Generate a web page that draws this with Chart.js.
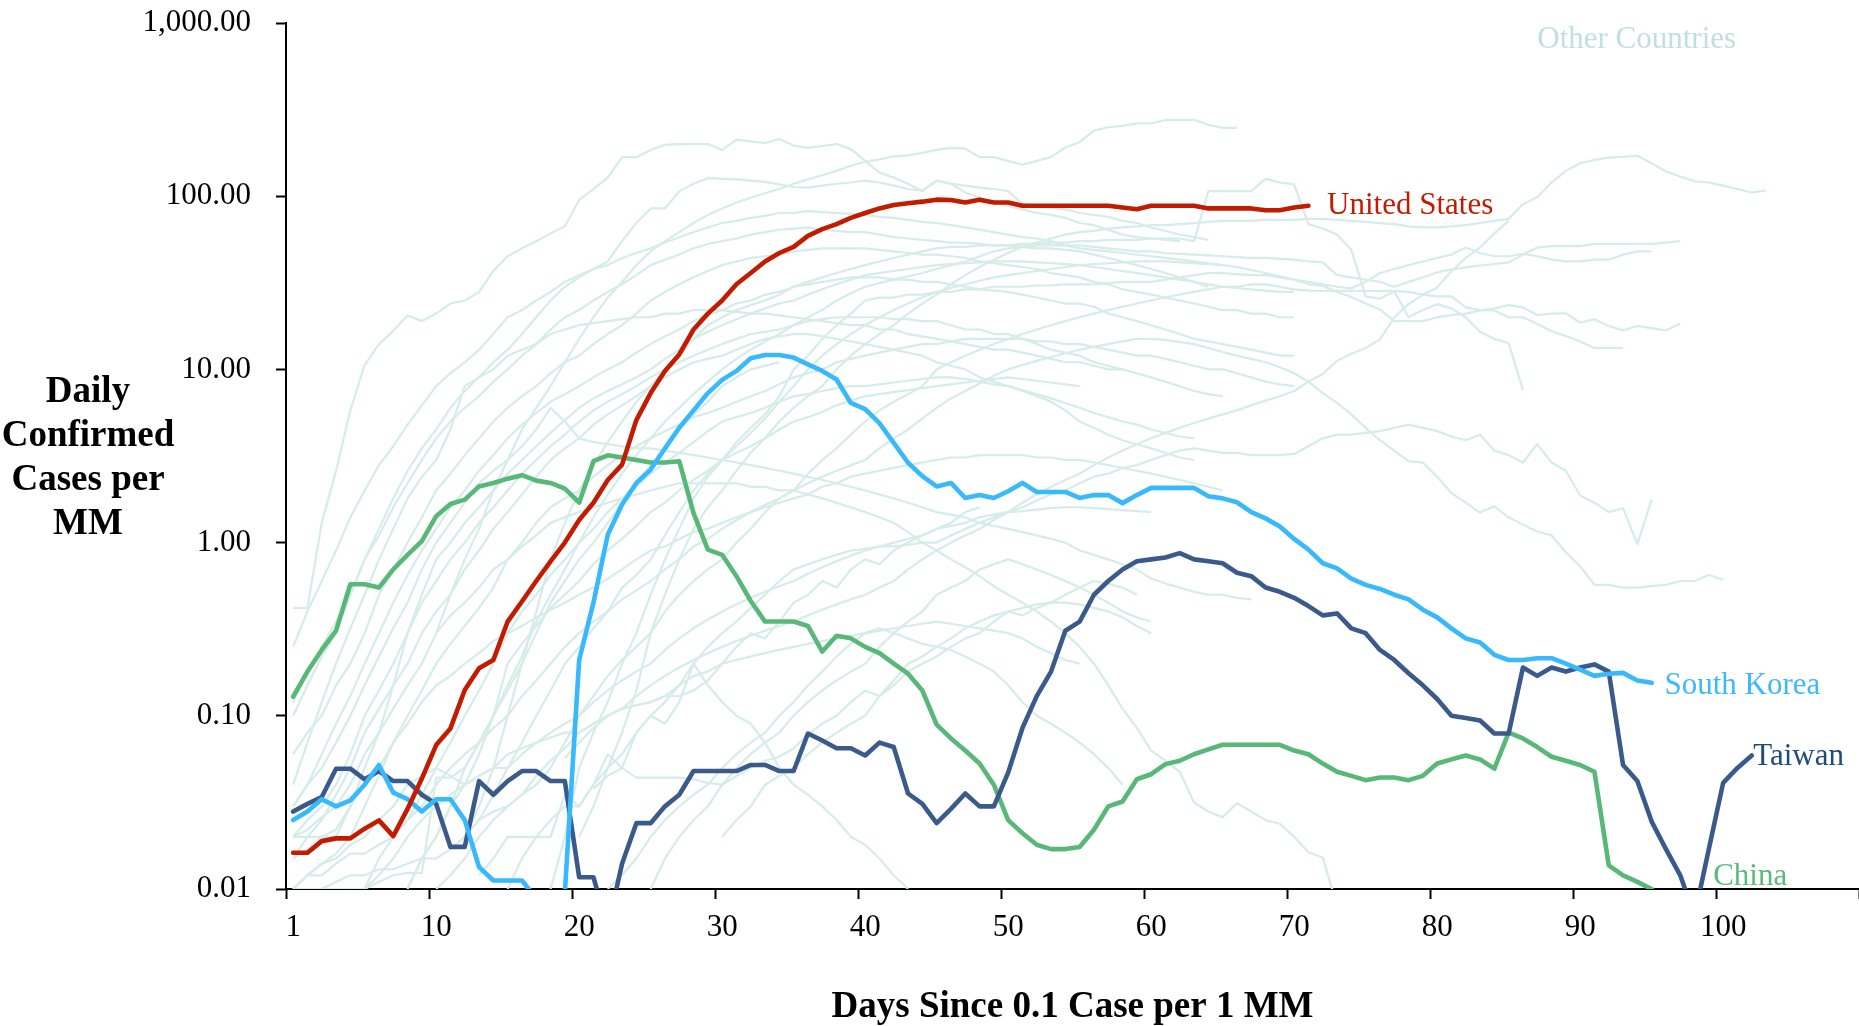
<!DOCTYPE html>
<html><head><meta charset="utf-8">
<script src="https://cdn.jsdelivr.net/npm/chart.js@4.4.1/dist/chart.umd.min.js"></script>
<style>html,body{margin:0;padding:0;background:#fff;overflow:hidden}canvas{display:block}</style>
</head><body>
<canvas id="c" width="1859" height="1026"></canvas>
<script>
// ---------- DATA ----------
// x = day index (category position); labels shown on axis below
const xTickLabels = ['1','10','20','30','40','50','60','70','80','90','100',''];
const yTickValues = [0.01, 0.1, 1, 10, 100, 1000];
const yTickLabels = ['0.01','0.10','1.00','10.00','100.00','1,000.00'];

const unitedStates = [0.0162,0.0162,0.0189,0.0196,0.0196,0.0223,0.0249,0.0202,0.029,0.0434,
 0.0678,0.0846,0.141,0.188,0.21,0.35,0.457,0.6,0.78,1.0,
 1.35,1.7,2.3,2.82,5.1,7.3,9.8,12.2,17,21,
 25,31,36,42,47,51,59,64.5,69,75,
 80,85,89,91,93,95.5,95,92,95.5,92,
 92,88,88,88,88,88,88,88,86,84,
 88,88,88,88,85,85,85,85,83,83,
 86,88];
const southKorea = [0.025,0.028,0.033,0.03,0.0325,0.04,0.052,0.036,0.033,0.028,
 0.033,0.033,0.025,0.0134,0.0112,0.0112,0.0112,0.0088,0.005,0.0095,
 0.21,0.45,1.11,1.66,2.21,2.64,3.5,4.6,5.8,7.3,
 8.7,9.8,11.6,12.1,12.1,11.7,10.7,9.8,8.75,6.4,
 5.9,4.9,3.77,2.89,2.42,2.11,2.21,1.81,1.88,1.81,
 1.98,2.21,1.96,1.96,1.96,1.81,1.88,1.88,1.69,1.88,
 2.07,2.07,2.07,2.07,1.85,1.8,1.71,1.5,1.38,1.24,
 1.05,0.91,0.76,0.71,0.62,0.57,0.54,0.5,0.47,0.41,
 0.37,0.32,0.28,0.265,0.225,0.21,0.21,0.215,0.215,0.2,
 0.185,0.17,0.175,0.177,0.16,0.155];
const taiwan = [0.028,0.031,0.034,0.0495,0.0495,0.043,0.048,0.042,0.042,0.035,
 0.031,0.0175,0.0175,0.042,0.035,0.042,0.048,0.048,0.042,0.042,
 0.0117,0.0117,0.006,0.014,0.024,0.024,0.03,0.035,0.048,0.048,
 0.048,0.048,0.052,0.052,0.048,0.048,0.079,0.072,0.065,0.065,
 0.059,0.07,0.066,0.0356,0.031,0.024,0.029,0.0356,0.03,0.03,
 0.047,0.085,0.13,0.18,0.31,0.35,0.5,0.6,0.7,0.78,
 0.8,0.82,0.87,0.8,0.78,0.76,0.67,0.64,0.55,0.52,
 0.48,0.43,0.38,0.39,0.32,0.3,0.24,0.21,0.176,0.15,
 0.125,0.1,0.097,0.094,0.079,0.079,0.19,0.17,0.19,0.18,
 0.19,0.198,0.18,0.052,0.042,0.0245,0.017,0.012,0.007,0.017,
 0.041,0.05,0.059];
const china = [0.129,0.18,0.24,0.31,0.575,0.575,0.55,0.7,0.85,1.02,
 1.42,1.67,1.77,2.11,2.21,2.34,2.45,2.28,2.21,2.05,
 1.7,2.95,3.19,3.1,3.0,2.9,2.9,2.95,1.48,0.91,
 0.85,0.64,0.46,0.35,0.35,0.35,0.33,0.235,0.29,0.28,
 0.25,0.23,0.2,0.175,0.14,0.089,0.074,0.063,0.053,0.04,
 0.025,0.021,0.018,0.017,0.017,0.0175,0.022,0.03,0.032,0.043,
 0.046,0.0526,0.055,0.06,0.064,0.068,0.068,0.068,0.068,0.068,
 0.063,0.06,0.053,0.0475,0.045,0.0425,0.044,0.044,0.0425,0.045,
 0.053,0.056,0.059,0.056,0.0495,0.08,0.074,0.066,0.058,0.055,
 0.052,0.0475,0.0137,0.012,0.011,0.0100];

// other countries: each array starts at the day index given in otherStarts
const other01 = [0.42,0.42,1.3,2.6,5.8,10.6,14,16.7,20.5,19,21,24,25,28,37,45,50,55,61,67,95,110,128,168,168,185,198,200,200,200,185,212,207,203,214,196,190,195,200,187,160,137,128,118,107,123,118,105,98,92,88,84,80,78,75,70,68,64,60,58,57,56,55];
const other02 = [0.3,0.5,0.8,1.2,2,3,4.5,6,8,11,15,20,26,32,40,48,55,62,70,78,85,92,98,104,110,118,125,132,140,150,158,163,170,172,178,185,190,188,168,168,160,152,160,168,191,205,239,250,255,263,263,276,276,276,258,248,248];
const other03 = [0.1,0.15,0.22,0.3,0.5,0.8,1.2,1.8,2.6,3.5,4.5,6,7.5,9,11,13,16,20,25,30,34,38,42,55,70,85,85,107,118,127,126,125,123,121,117,113,112,115,118,120,123,120,115,110,108,123,118,115,112,110,107,90,88,86,84,80,78,76,72,70,66,63,60,58,56];
const other04 = [0.25,0.4,0.6,0.9,1.4,2,2.8,3.6,4.8,6.2,8,9.5,11,13,16,20,22,25,28,32,35,38,40,44,47,50,54,58,62,66,70,72,75,77,80,80,82,81,80,79,78,76,75,73,71,70,68,66,64,62,60,58,57,55,52,50,49,48,47,46,45,44,43,42,41,40];
const other05 = [0.12,0.18,0.25,0.35,0.5,0.8,1.1,1.6,2.2,3,4,5,6,7,8.5,10,12,14,17,20,22,25,28,31,35,40,43,46,50,53,55,57,60,62,64,65,66,64,63,62,62,60,58,57,56,55,54,54,53,52,52,51,50,50,49,48,46,44,42,40,38,36,34,32,30];
const other06 = [0.06,0.08,0.1,0.15,0.2,0.3,0.5,0.7,1,1.4,2,2.5,3.2,4,5,6,7,8,9.5,11,12,14,16,18,21,25,28,31,34,37,40,42,44,45,46,48,49,50,50,50,50,49,48,47,46,46,45,44,42,41,40,39,38,36,35,34,32,31,29,28,27,26,25,24,23,22,22,21,21,20,20];
const other07 = [0.03,0.04,0.06,0.09,0.13,0.2,0.3,0.45,0.65,0.9,1.2,1.6,2,2.6,3.2,4,4.8,5.6,6.5,7.2,8,9,10,11,12.5,14,15.5,17,19,20.5,22,24,25,27,28,30,31,32,33,34,34,34,33,33,32,32,31,30,29,28.5,28,27,26,25,24,24,23,21,20,19,18,17,16,15,14.5,14,13.5,13,12.5,12,12];
const other08 = [0.02,0.025,0.03,0.04,0.06,0.1,0.14,0.2,0.3,0.45,0.6,0.8,1,1.3,1.6,2,2.5,3,3.6,4.2,5,5.8,6.5,7.2,8,9,10,11,12,13,14,15,16,16.5,17,18,19,19.5,20,20,20,20,19.5,19.5,19,19,18,17,17,16,16,15,14,13,12.5,12,11,10.5,10,9.5,9,8.5,8,7.5,7.2,7];
const other09 = [0.015,0.02,0.025,0.035,0.05,0.08,0.11,0.15,0.2,0.3,0.4,0.5,0.7,0.9,1.2,1.5,1.9,2.4,3,3.5,4,4.8,5.5,6.2,7,8,9,10,11,11.5,12,13,14,15,15.5,16,16,15.5,15,14.5,14,13.5,13,12.5,12,11,10.5,10,9,8.5,8,7.5,7,6.5,5.8,5,4.6,4.2,3.9,3.7,3.5,3.3,3.1,3];
const other10 = [0.04,0.07,0.12,0.2,0.32,0.5,0.8,1.2,1.8,2.4,3,4.5,8,9,10,12,13,14,16,17,18,18.5,19,19.5,20,20,21,21,22,22,22,21.5,21,21,20.5,20,19.5,19,18.5,18,18,17,17,16,15.5,15,14.5,14,13.5,13,13,12.5,12,11.5,11,11,10.5,10,10];
const other11 = [0.02,0.02,0.02,0.02,0.03,0.05,0.08,0.15,0.3,0.5,0.8,1,1.3,1.6,2,2.5,3,3.6,4.3,5.1,6,6.8,7.5,8.2,9,10,11.5,13,15,16.5,18,19.5,21,22.5,24,25,27,29,31,33,35,36,37,38,39,40,40.5,41,41.5,42,42,42,41.5,41,40.5,40,39,38,37,36,35,34,33,32,31,30,29.5,29,28.5,28,28];
const other12 = [0.01,0.012,0.014,0.016,0.02,0.03,0.045,0.07,0.1,0.14,0.2,0.26,0.33,0.42,0.55,0.8,1,1.3,1.6,1.8,2,2.4,2.8,3.2,3.6,4,4.4,4.8,5.3,5.6,6,6.5,7,7.5,8.2,9,9.5,10,11,11.5,12,12.5,13,13.5,14,14,14.5,15,15,15,15,15,14.5,14.5,14,14,13.5,13,12.5,12,12,11.5,11,10.5,10,10,9.5,9,8.5,8.2,8];
const other13 = [0.01,0.012,0.012,0.014,0.016,0.016,0.018,0.02,0.025,0.035,0.05,0.07,0.1,0.14,0.2,0.3,0.4,0.5,0.65,0.8,1,1.2,1.5,1.8,2.1,2.5,2.9,3.3,3.8,4.4,5,5.3,5.6,6,6.5,7,7.2,7.5,7.8,8,8,8.2,8.4,8.6,8.8,9,9,8.8,8.5,8.2,8,7.6,7.2,6.8,6.4,6,5.6,5.3,5,4.8,4.5,4.3,4.1,4];
const other14 = [0.03,0.04,0.05,0.07,0.1,0.15,0.22,0.32,0.45,0.7,1,1.3,1.7,2.2,2.6,3,3.6,4.5,6,5,4,3.8,3.7,3.6,3.5,3.5,3.4,3.3,3.2,3.1,3,2.9,2.8,2.7,2.6,2.5,2.4,2.3,2.2,2.1,2,1.9,1.8,1.7,1.6,1.5,1.45,1.4,1.3,1.25,1.2,1.15,1.1,1.05,1,0.9,0.85,0.8,0.75,0.7,0.62,0.58,0.55,0.52,0.5,0.5,0.48,0.47];
const other15 = [0.02,0.022,0.026,0.03,0.04,0.06,0.08,0.11,0.15,0.2,0.3,0.38,0.45,0.55,0.7,0.8,0.95,1.1,1.3,1.4,1.5,1.6,1.7,1.8,1.9,2,2.1,2.2,2.2,2.2,2.2,2.2,2.1,2.1,2,2,1.9,1.8,1.7,1.6,1.5,1.4,1.3,1.15,1,0.9,0.8,0.72,0.64,0.56,0.5,0.45,0.4,0.35,0.3,0.25,0.2,0.15,0.11,0.085,0.063,0.055,0.0475,0.0316,0.028,0.026,0.0313,0.028,0.025,0.0238,0.02,0.0163,0.0152,0.008];
const other16 = [0.01,0.012,0.014,0.015,0.018,0.02,0.025,0.03,0.04,0.045,0.05,0.045,0.04,0.06,0.1,0.2,0.26,0.33,0.42,0.5,0.6,0.75,0.9,1.05,1.25,1.5,1.7,2,2.3,2.6,3,3.3,3.6,4,4.5,5,5.3,5.7,6.2,6.6,7,7.2,7.4,7.6,7.8,8,8.2,8.4,8.6,8.8,9,8.8,8.6,8.4,8.2,8];
const other17 = [0.015,0.017,0.02,0.022,0.03,0.04,0.05,0.07,0.09,0.12,0.15,0.17,0.2,0.23,0.27,0.3,0.33,0.37,0.41,0.45,0.5,0.55,0.62,0.7,0.8,0.9,0.95,1.05,1.15,1.2,1.3,1.4,1.5,1.6,1.7,1.8,1.9,2.1,2.2,2.4,2.5,2.6,2.7,2.8,2.9,3,3.1,3.1,3.2,3.2,3.2,3.2,3.1,3.1,3,3,2.9,2.8,2.7,2.6,2.5,2.4,2.3,2.2,2.1,2];
const other18 = [0.01,0.01,0.01,0.011,0.012,0.012,0.013,0.013,0.014,0.015,0.015,0.017,0.02,0.025,0.028,0.03,0.035,0.04,0.05,0.07,0.1,0.12,0.14,0.16,0.18,0.2,0.24,0.28,0.32,0.36,0.4,0.44,0.48,0.52,0.56,0.6,0.66,0.72,0.78,0.84,0.9,0.95,1,1.05,1.1,1.2,1.25,1.3,1.4,1.45,1.5,1.52,1.55,1.58,1.6,1.6,1.58,1.56,1.54,1.52,1.5];
const other19 = [0.01,0.01,0.01,0.01,0.01,0.01,0.012,0.015,0.02,0.025,0.03,0.035,0.04,0.045,0.05,0.06,0.065,0.07,0.075,0.08,0.08,0.09,0.1,0.11,0.115,0.12,0.13,0.15,0.17,0.18,0.2,0.21,0.22,0.23,0.24,0.25,0.26,0.27,0.28,0.29,0.3,0.31,0.32,0.33,0.34,0.35,0.34,0.33,0.32,0.31,0.3,0.28,0.25,0.23,0.21,0.2];
const other20 = [0.01,0.015,0.02,0.03,0.04,0.045,0.05,0.05,0.06,0.07,0.08,0.09,0.1,0.13,0.17,0.21,0.25,0.3,0.4,0.5,0.6,0.7,0.8,1,1.2,1.5,1.8,2,2.5,3,3.5,4.2,5,5.8,6.5,7.2,8,10,11,12,13,14,15,16,17,18,19,20,21,22,23,24,25,26,27,28,29,30,30,31,31,30,29,28.5,28.4,28.4,28.4,28.4,28.4,28.4,28,27,26.4,26.4,22.8,22,21.9,20,20,18.3,16.6,15.6,14.5,13.3,13.3,13.3];
const other21 = [0.01,0.015,0.02,0.025,0.03,0.03,0.04,0.05,0.06,0.08,0.1,0.12,0.15,0.2,0.25,0.3,0.35,0.42,0.5,0.6,0.7,0.75,0.8,0.85,0.9,0.92,0.95,0.95,0.97,1,1,1.1,1.2,1.3,1.4,1.5,1.7,1.9,2.1,2.3,2.5,2.8,3.1,3.4,3.7,4,4.3,4.6,4.9,5.2,5.5,5.8,6.2,6.6,7,7.5,8.5,9.4,11.2,12.3,13.3,14.9,20,23.8,27,29.7,37,44,50.5,61,72];
const other22 = [0.01,0.012,0.015,0.02,0.025,0.03,0.035,0.045,0.055,0.065,0.08,0.09,0.1,0.11,0.13,0.15,0.17,0.19,0.21,0.23,0.25,0.27,0.29,0.31,0.33,0.35,0.38,0.41,0.44,0.47,0.5,0.55,0.6,0.7,0.8,0.9,1,1.1,1.2,1.35,1.5,1.6,1.75,1.9,2,2.2,2.4,2.5,2.7,2.8,3,3.2,3.4,3.5,3.4,3.3,3.3,3.2,3.2,3.2,3.25,3.6,4,4.2,4.2,4.3,4.4,4.6,4.8,4.6,4.4,4.1,3.9,4.2,3.4,3.2,2.9,3.7,2.9,2.6,1.87,1.7,1.5,1.58,0.98,1.77];
const other23 = [0.01,0.015,0.02,0.025,0.03,0.04,0.05,0.06,0.07,0.085,0.1,0.13,0.16,0.2,0.25,0.3,0.35,0.4,0.47,0.53,0.6,0.7,0.8,0.95,1.05,1.2,1.35,1.5,1.65,1.8,2,2.2,2.4,2.6,2.8,3,3.5,4,4.5,5.2,6,6.8,7.5,8.3,9.2,10,10.6,11.2,11.8,12.4,13,13.5,14,14.5,15,15,14.8,14.4,14,13.3,12.6,12,11.5,11,10.3,9.5,8.5,7.3,6.4,5.5,4.6,3.9,3.4,2.95,2.9,2.4,1.93,1.7,1.49,1.62,1.4,1.27,1.16,1.1,0.88,0.73,0.57,0.57,0.55,0.55,0.56,0.57,0.6,0.6,0.65,0.61];
const other24 = [0.02,0.025,0.035,0.05,0.07,0.1,0.14,0.2,0.25,0.32,0.4,0.55,0.65,0.8,1.1,1.5,2,2.5,3,3.6,4.3,5.2,6.5,8,10,12,14,16,18,20,22,24,26,28,29.5,31,32.5,34,35,36,37,38,39,40,40.5,41,41.5,42,42,42,41.5,41,40.5,40,39,37.5,36,34.5,33,31,30.4,28,26.2,24,22.2,19,19,19,20,20.6,21,21.9,22.5,23.5,22.8,20.6,21,21.1,18.6,19.5,17.8,16.8,17.8,17.3,16.8,18.4];
const other25 = [0.01,0.015,0.02,0.03,0.05,0.07,0.1,0.15,0.22,0.35,0.5,0.7,1,1.4,1.9,2.5,3.2,4,5,6,7.2,8.5,10,11.5,13,14.5,16,18,20,22,25,27.5,30,31.5,33,34.5,36,38,40,42,45,48,50,51,52,52,52,52,51,50,49,48,48,47,46.5,46,45.5,45,44.5,44,44,43.5,43,42,41.5,35,34,33,32,30,32,34,36.3,37.8,38.8,39.8,40.6,41.5,46,50.5,51.5,51.5,51.5,53,53,53,53,53,54,55];
const other26 = [0.01,0.02,0.05,0.08,0.12,0.2,0.3,0.5,0.8,1.2,1.8,2.4,3,3.8,4.6,5.5,7,10,12,15,18,21,25,26,26,27,27,28,28,29,29,30,30,30,30.5,30.5,31,31,31,31.5,32,32,32,33,34,35,36,36,35.5,35,35,34,33,32,31,30,29.4,32,36,38,40,42,44,46,50.5,47,45,45,46.4,45,43,42,42,43,43,46,48,48];
const other27 = [0.02,0.03,0.05,0.1,0.2,0.4,0.8,1.3,2,2.8,3.8,5,6.5,8,10,12,15,18,20,22,23.5,25,27,30,32,34,36,38,40,42,44,46,48,50,51,51,52,52,52,53,53,54,54,55,55,56,56,56,57,57,57,55,107,107,107,107,126,120,117,69,65,60,49,26.4,25.6,28.3,20,22,23.8,22.5,20,16.5,15,14.2,7.6];
const other28 = [0.02,0.03,0.05,0.08,0.14,0.3,0.5,0.8,1.2,1.6,2,2.6,3.3,4,5,6,7,8,10,12,14,16,18,21,24,27,31,35,39,43,47,51,54,57,60,62,63,65,66,67,68,68,69,70,71,72,72,72,73,73,73,74,74,73,72,71,70,69,67,66,66,67,68,70,72,74,90,98.6,120,140,155,162,167,169,171,155,139,130,122,120,115,110,105,108];
const other29 = [0.01,0.012,0.015,0.02,0.025,0.03,0.035,0.04,0.05,0.06,0.07,0.08,0.1,0.12,0.15,0.18,0.22,0.26,0.3,0.32,0.3,0.28,0.26,0.25,0.24,0.22,0.2,0.18,0.15,0.12,0.1,0.09,0.08,0.07,0.06,0.05,0.04];
const other30 = [0.01,0.015,0.02,0.025,0.03,0.04,0.05,0.06,0.07,0.08,0.1,0.12,0.14,0.16,0.18,0.2,0.25,0.3,0.35,0.4,0.5,0.55,0.6,0.7,0.75,0.8,0.75,0.7,0.65,0.6,0.55,0.5,0.45,0.4,0.37,0.35];
const other31 = [0.02,0.025,0.03,0.04,0.045,0.05,0.06,0.07,0.08,0.09,0.1,0.13,0.16,0.2,0.22,0.25,0.28,0.32,0.35,0.38,0.4,0.42,0.44,0.45,0.45,0.44,0.42,0.4,0.37,0.33,0.3];
const other32 = [0.057,0.07,0.085,0.1,0.11,0.115,0.12,0.13,0.13,0.14,0.16,0.2,0.25,0.3,0.28,0.35,0.45,0.5,0.6,0.55,0.7,0.8,0.75,0.9,1.0,1.1,1.2,1.3,1.5,1.6];
const other33 = [0.038,0.045,0.05,0.044,0.044,0.044,0.044,0.043,0.041,0.04,0.045,0.05,0.055,0.058,0.065,0.078,0.09,0.1,0.12,0.14,0.13,0.15,0.18,0.2,0.22,0.25,0.28,0.3,0.35,0.4,0.38,0.42,0.45,0.5,0.55,0.6,0.58,0.55,0.5];
const other34 = [0.012,0.015,0.02,0.02,0.02,0.02,0.035,0.03,0.04,0.06,0.05,0.08,0.1,0.09,0.12,0.2,0.15,0.12,0.1,0.09,0.07,0.05,0.04,0.035,0.03,0.025,0.02,0.018,0.015,0.012,0.01];
const other35 = [0.01,0.011,0.012,0.0124,0.0124,0.044,0.044,0.05,0.07,0.1,0.14,0.2,0.3,0.45,0.6,0.8,1,1.3,1.7,2.2,2.8,3.5,4.5,5.5,6.5,8,9,10,10.5,11];
const otherSeries = [other01,other02,other03,other04,other05,other06,other07,other08,other09,other10,
 other11,other12,other13,other14,other15,other16,other17,other18,other19,other20,
 other21,other22,other23,other24,other25,other26,other27,other28,other29,other30,
 other31,other32,other33,other34,other35];
const otherStarts = [0,10,0,0,0,0,0,0,0,0, 0,0,0,0,0,0,0,0,0,8, 15,10,5,12,8,18,12,20,22,25, 30,19,21,13,5];

const seriesLabels = [
  {text:'United States', x:72.3, y:88, color:'#C21B00'},
  {text:'South Korea', x:95.9, y:0.149, color:'#3BB8FF'},
  {text:'Taiwan', x:102.1, y:0.058, color:'#1F4B78'},
  {text:'China', x:99.3, y:0.0117, color:'#5BBA7B'},
  {text:'Other Countries', x:87, y:800, color:'#BFE1DC'}
];
const yTitleLines = ['Daily','Confirmed','Cases per','MM'];

// ---------- BUILD ----------
const toPts = (arr, start) => arr.map((v, i) => ({x: start + i, y: v}));
const SERIF = "'Liberation Serif', 'Times New Roman', serif";
const mainStyle = (color) => ({borderColor: color, borderWidth: 4.6, pointRadius: 0, tension: 0,
  borderJoinStyle: 'round', borderCapStyle: 'round', fill: false});

const datasets = [
  {label:'United States', data: toPts(unitedStates,0), ...mainStyle('#C21B00')},
  {label:'South Korea', data: toPts(southKorea,0), ...mainStyle('#38B8FD')},
  {label:'Taiwan', data: toPts(taiwan,0), ...mainStyle('#3A5A8B')},
  {label:'China', data: toPts(china,0), ...mainStyle('#58B878')},
];
otherSeries.forEach((arr, k) => datasets.push({
  label: 'Other ' + (k+1), data: toPts(arr, otherStarts[k]),
  borderColor: '#D5ECE9', borderWidth: 2.2, pointRadius: 0, tension: 0,
  borderJoinStyle: 'round', fill: false
}));

const textPlugin = {
  id: 'texts',
  afterDraw(chart) {
    const {ctx, scales: {x, y}} = chart;
    ctx.save();
    ctx.textBaseline = 'middle';
    ctx.textAlign = 'left';
    ctx.font = '31px ' + SERIF;
    seriesLabels.forEach(l => {
      ctx.fillStyle = l.color;
      ctx.fillText(l.text, x.getPixelForValue(l.x), y.getPixelForValue(l.y));
    });
    ctx.font = 'bold 37px ' + SERIF;
    ctx.textAlign = 'center';
    ctx.fillStyle = '#000';
    yTitleLines.forEach((t, i) => ctx.fillText(t, 88, 392 + i * 44));
    ctx.restore();
  }
};

new Chart(document.getElementById('c'), {
  type: 'line',
  data: {datasets},
  options: {
    responsive: false,
    animation: false,
    devicePixelRatio: 1,
    layout: {padding: {top: 23, right: 0, bottom: 0, left: 0}},
    plugins: {legend: {display: false}, tooltip: {enabled: false}},
    scales: {
      x: {
        type: 'linear', position: 'bottom', min: -0.5, max: 109.5,
        afterBuildTicks: (s) => { s.ticks = xTickLabels.map((_, k) => ({value: k * 10 - 0.5})); },
        afterFit: (s) => { s.height = 137; s.paddingLeft = 0; s.paddingRight = 0; },
        ticks: {
          autoSkip: false, maxRotation: 0, minRotation: 0, padding: 10, labelOffset: 7.15,
          color: '#000', font: {family: SERIF, size: 31},
          callback: (v, i) => xTickLabels[i]
        },
        grid: {drawOnChartArea: false, drawTicks: true, tickLength: 10, tickColor: '#000', tickWidth: 2},
        border: {display: true, color: '#000', width: 2},
        title: {display: true, text: 'Days Since 0.1 Case per 1 MM', color: '#000',
          font: {family: SERIF, size: 37, weight: 'bold', lineHeight: 1}, padding: {top: 0, bottom: 0}}
      },
      y: {
        type: 'logarithmic', min: 0.01, max: 1000,
        afterBuildTicks: (s) => { s.ticks = yTickValues.map(v => ({value: v, major: true})); },
        afterFit: (s) => { s.width = 286; s.paddingTop = 0; s.paddingBottom = 0; },
        ticks: {
          autoSkip: false, padding: 25, color: '#000', font: {family: SERIF, size: 31},
          callback: (v, i) => yTickLabels[i]
        },
        grid: {drawOnChartArea: false, drawTicks: true, tickLength: 10, tickColor: '#000', tickWidth: 2},
        border: {display: true, color: '#000', width: 2}
      }
    }
  },
  plugins: [textPlugin]
});
</script>
</body></html>
